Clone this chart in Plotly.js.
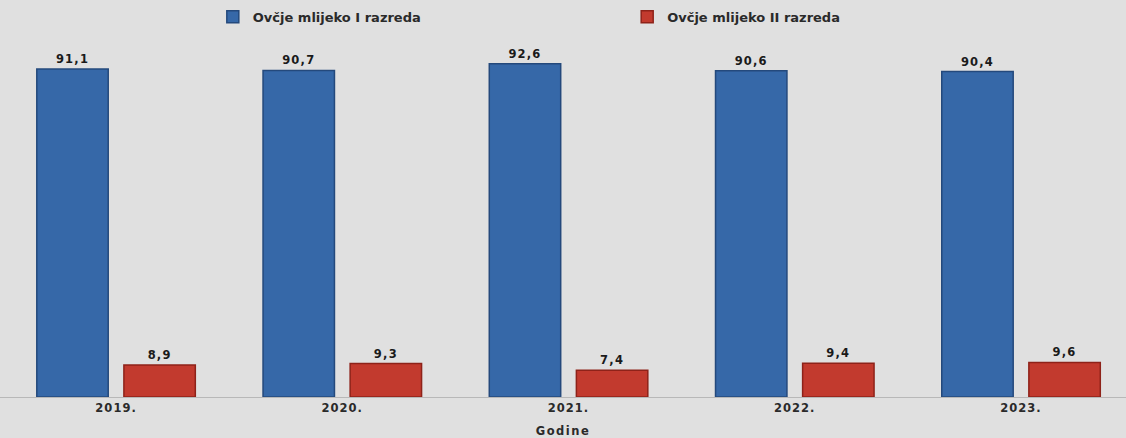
<!DOCTYPE html>
<html><head><meta charset="utf-8">
<script src="https://cdn.plot.ly/plotly-3.0.1.min.js"></script>
<style>
html,body{margin:0;padding:0;background:#e0e0e0;}
#chart .xtick text{letter-spacing:1px;}
#chart text.bartext{letter-spacing:1.2px;}
#chart .g-xtitle text{letter-spacing:1.5px;}
</style>
</head><body>
<div id="chart" style="width:1126px;height:438px;"></div>
<script>
const years = ["2019.", "2020.", "2021.", "2022.", "2023."];
const seriesNames = ["Ovčje mlijeko I razreda", "Ovčje mlijeko II razreda"];
const classI = [91.1, 90.7, 92.6, 90.6, 90.4];
const classII = [8.9, 9.3, 7.4, 9.4, 9.6];

const FAM = "DejaVu Sans, Liberation Sans, sans-serif";
const labelFont = {family: FAM, size: 11.5, color: "#1a1a1a", weight: "bold"};
const legFont = {family: FAM, size: 13, color: "#2a2a2a", weight: "bold"};
const traces = [
  {type: "bar", name: seriesNames[0], x: years, y: classI, legend: "legend",
   marker: {color: "#3668a8", line: {color: "#24497c", width: 1.5}},
   texttemplate: "%{y:.1f}", textposition: "outside", cliponaxis: false,
   textfont: labelFont, hoverinfo: "skip"},
  {type: "bar", name: seriesNames[1], x: years, y: classII, legend: "legend2",
   marker: {color: "#c23a2e", line: {color: "#8e2219", width: 1.5}},
   texttemplate: "%{y:.1f}", textposition: "outside", cliponaxis: false,
   textfont: labelFont, hoverinfo: "skip"}
];
const layout = {
  width: 1126, height: 438,
  paper_bgcolor: "#e0e0e0", plot_bgcolor: "#e0e0e0",
  margin: {l: 0, r: 0, t: 37, b: 41, autoexpand: false},
  separators: ", ",
  barmode: "group", bargap: 0.23, bargroupgap: 0.18,
  showlegend: true,
  legend: {orientation: "h", x: 0.189, y: 1.056, xanchor: "left", yanchor: "middle",
           itemwidth: 30, font: legFont, bgcolor: "rgba(0,0,0,0)", tracegroupgap: 0},
  legend2: {orientation: "h", x: 0.557, y: 1.056, xanchor: "left", yanchor: "middle",
           itemwidth: 30, font: legFont, bgcolor: "rgba(0,0,0,0)", tracegroupgap: 0},
  xaxis: {type: "category", range: [-0.513, 4.464], autorange: false, showgrid: false,
          showline: true, linecolor: "#b8b8b8", linewidth: 1, ticks: "",
          tickfont: {family: FAM, size: 11.5, color: "#2a2a2a", weight: "bold"},
          title: {text: "Godine", standoff: 13,
                  font: {family: FAM, size: 11.5, color: "#2a2a2a", weight: "bold"}}},
  yaxis: {range: [0, 100], visible: false, showgrid: false, zeroline: false}
};
Plotly.newPlot("chart", traces, layout, {displayModeBar: false, staticPlot: true});
</script>
</body></html>
